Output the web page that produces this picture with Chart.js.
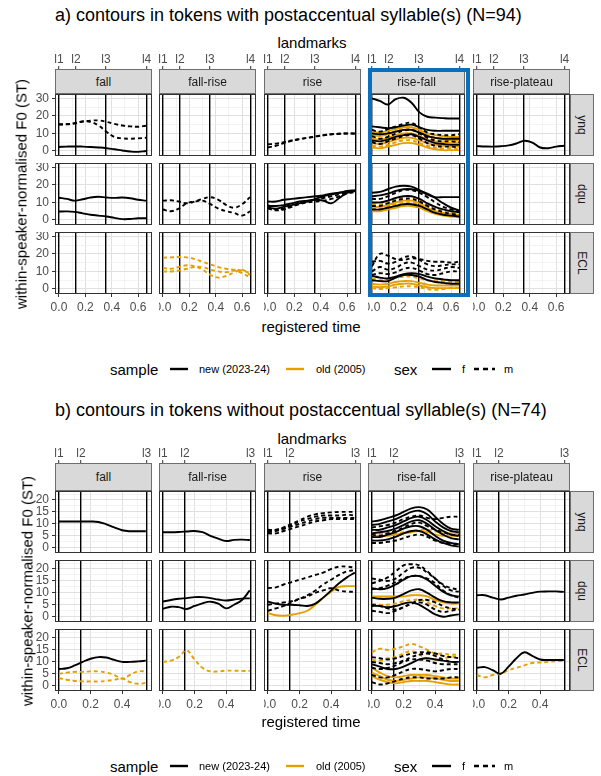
<!DOCTYPE html>
<html>
<head>
<meta charset="utf-8">
<script src="https://cdn.jsdelivr.net/npm/chart.js@4"></script>
<style>
  body { margin: 0; background: #fff; font-family: "Liberation Sans", Arial, sans-serif; }
  #page { position: relative; width: 601px; height: 776px; overflow: hidden; background: #fff; }
  #page canvas { position: absolute; }
  .txt { position: absolute; white-space: nowrap; line-height: 1; }
  .strip { position: absolute; box-sizing: border-box; background: #d9d9d9; border: 1px solid #6e6e6e;
           color: #1a1a1a; font-size: 12px; display: flex; align-items: center; justify-content: center; z-index: 2; }
  .strip span { display: inline-block; white-space: nowrap; }
  .vstrip span { transform: rotate(90deg); }
  .hilite { position: absolute; box-sizing: border-box; border: 4px solid #0a6fbd; z-index: 3; }
</style>
</head>
<body>
<div id="page"></div>
<script>
// facets
const contourTypes = ['fall', 'fall-rise', 'rise', 'rise-fall', 'rise-plateau'];
const utteranceTypes = ['ynq', 'dqu', 'ECL'];

// a) tokens with postaccentual syllable(s)
const timeA = [0, 0.06, 0.12, 0.18, 0.24, 0.30, 0.36, 0.42, 0.48, 0.54, 0.60, 0.66];
const landmarksA = [0, 0.129, 0.356, 0.664];
const landmarkNamesA = ['l1', 'l2', 'l3', 'l4'];
const xTicksA = [0, 0.2, 0.4, 0.6];
const yTicksA = [0, 10, 20, 30];

// b) tokens without postaccentual syllable(s)
const timeB = [0, 0.05, 0.10, 0.15, 0.20, 0.25, 0.30, 0.35, 0.40, 0.45, 0.50, 0.55];
const landmarksB = [0, 0.139, 0.555];
const landmarkNamesB = ['l1', 'l2', 'l3'];
const xTicksB = [0, 0.2, 0.4];
const yTicksB = [0, 5, 10, 15, 20];

// contours: [sample, sex, F0 values at each time point]
const aFallYnq = [
  ['new', 'f', [2.3, 2.5, 2.6, 2.5, 2.3, 2.0, 1.6, 1.0, 0.3, -0.3, -0.5, 0.0]],
  ['new', 'm', [15.2, 15.3, 15.8, 16.8, 17.3, 17.4, 16.6, 15.4, 14.5, 14.0, 13.8, 14.4]],
  ['new', 'm', [15.0, 15.2, 15.8, 16.8, 16.5, 14.5, 11.0, 8.0, 7.2, 7.0, 7.2, 7.5]]
];
const aFallDqu = [
  ['new', 'f', [12.7, 12.0, 11.0, 11.8, 12.8, 13.2, 12.8, 12.6, 12.8, 12.4, 11.5, 11.0]],
  ['new', 'f', [4.8, 4.9, 4.6, 3.8, 3.0, 2.5, 2.0, 1.2, 0.5, 0.6, 1.0, 1.0]]
];
const aFallriseDqu = [
  ['new', 'm', [11.0, 11.2, 10.5, 9.5, 10.5, 12.0, 13.0, 11.5, 8.5, 7.0, 9.0, 13.0]],
  ['new', 'm', [6.0, 5.0, 6.5, 9.5, 10.5, 11.0, 9.0, 6.5, 5.0, 4.0, 2.5, 5.0]]
];
const aFallriseEcl = [
  ['old', 'm', [17.8, 18.0, 18.2, 18.0, 17.0, 15.5, 14.0, 12.5, 11.5, 11.0, 10.5, 9.0]],
  ['old', 'm', [12.0, 11.5, 12.5, 13.5, 13.0, 11.0, 8.0, 6.5, 7.5, 9.5, 11.0, 8.0]],
  ['old', 'm', [10.0, 10.0, 10.5, 11.5, 12.5, 12.5, 11.0, 10.0, 9.5, 10.5, 9.0, 6.5]]
];
const aRiseYnq = [
  ['new', 'm', [3.8, 4.2, 5.0, 6.0, 6.8, 7.5, 8.2, 9.0, 9.5, 9.8, 10.0, 10.0]],
  ['new', 'm', [2.0, 3.0, 4.5, 5.8, 6.8, 7.5, 8.3, 9.0, 9.5, 9.8, 10.0, 9.8]]
];
const aRiseDqu = [
  ['new', 'f', [10.5, 10.5, 11.5, 12.0, 12.5, 13.0, 13.5, 14.0, 15.0, 15.5, 16.5, 17.0]],
  ['new', 'f', [8.0, 8.0, 8.5, 9.5, 10.5, 11.0, 11.5, 11.0, 9.5, 12.5, 15.5, 16.5]],
  ['new', 'f', [7.0, 6.5, 7.5, 8.5, 9.5, 10.5, 12.0, 13.5, 14.5, 15.5, 16.0, 16.5]],
  ['new', 'm', [6.5, 5.5, 6.0, 7.5, 9.0, 10.0, 10.5, 11.0, 12.0, 13.5, 15.0, 16.0]],
  ['new', 'm', [8.5, 6.0, 6.5, 8.0, 9.5, 10.5, 11.5, 12.5, 13.5, 14.5, 15.5, 16.5]]
];
const aRisefallYnq = [
  ['old', 'f', [11.0, 10.5, 11.5, 12.5, 13.5, 13.5, 12.0, 10.0, 9.0, 8.5, 8.0, 8.0]],
  ['old', 'f', [9.0, 8.5, 9.5, 11.0, 12.0, 12.0, 10.5, 8.5, 7.5, 6.5, 6.0, 6.0]],
  ['old', 'f', [7.0, 6.5, 7.5, 9.0, 10.0, 10.0, 8.5, 6.5, 5.5, 5.0, 4.5, 4.5]],
  ['old', 'f', [4.5, 4.0, 5.0, 6.5, 7.5, 7.5, 6.0, 4.5, 3.5, 3.0, 2.5, 2.5]],
  ['old', 'm', [10.0, 9.0, 10.0, 11.5, 13.0, 13.0, 11.5, 9.0, 7.5, 7.0, 6.5, 6.5]],
  ['old', 'm', [3.0, 2.5, 3.5, 5.0, 6.0, 6.0, 4.5, 3.0, 2.0, 1.5, 1.5, 1.0]],
  ['old', 'f', [2.0, 1.5, 2.5, 3.5, 4.5, 4.5, 3.5, 2.0, 1.0, 0.5, 0.5, 0.5]],
  ['new', 'f', [30.0, 28.5, 26.5, 29.5, 30.3, 27.5, 22.0, 19.5, 19.0, 18.7, 18.5, 18.5]],
  ['new', 'f', [14.0, 13.5, 13.0, 13.5, 14.5, 15.0, 13.5, 12.0, 11.5, 11.5, 11.5, 11.5]],
  ['new', 'f', [10.0, 9.5, 10.0, 11.0, 12.0, 12.0, 10.5, 8.5, 7.5, 7.0, 7.0, 7.0]],
  ['new', 'm', [12.0, 11.0, 12.5, 14.0, 15.5, 16.0, 13.5, 10.5, 9.5, 9.0, 9.0, 9.5]],
  ['new', 'm', [8.5, 7.0, 8.0, 10.0, 11.5, 12.0, 10.0, 7.5, 6.0, 5.5, 5.5, 5.0]],
  ['new', 'm', [5.0, 4.0, 5.5, 7.0, 8.5, 9.0, 7.0, 4.5, 3.0, 2.5, 2.5, 2.0]],
  ['new', 'f', [6.0, 5.5, 6.5, 8.0, 9.0, 9.5, 8.0, 6.0, 4.5, 4.0, 3.5, 3.5]]
];
const aRisefallDqu = [
  ['old', 'f', [7.5, 7.5, 8.5, 10.0, 11.0, 11.0, 9.5, 7.0, 5.0, 4.0, 3.5, 3.0]],
  ['old', 'f', [5.0, 5.0, 6.0, 7.0, 8.0, 8.0, 7.0, 5.0, 3.5, 2.5, 2.0, 1.5]],
  ['old', 'm', [9.0, 9.0, 10.5, 12.0, 13.0, 13.0, 11.0, 8.5, 6.5, 5.0, 4.0, 3.5]],
  ['old', 'm', [6.5, 6.5, 7.5, 9.0, 10.0, 10.0, 8.5, 6.5, 4.5, 3.5, 3.0, 2.5]],
  ['new', 'f', [15.5, 16.0, 17.5, 19.0, 19.5, 19.0, 17.0, 14.5, 13.0, 13.0, 13.0, 13.0]],
  ['new', 'f', [13.5, 14.0, 15.0, 16.5, 17.5, 17.5, 16.5, 15.0, 12.5, 9.5, 7.0, 5.5]],
  ['new', 'm', [12.0, 12.0, 13.5, 15.5, 17.0, 17.0, 15.5, 13.0, 10.0, 7.5, 6.0, 5.0]],
  ['new', 'f', [10.0, 10.0, 11.0, 12.5, 13.5, 13.5, 12.0, 9.5, 7.5, 6.0, 5.0, 4.5]],
  ['new', 'm', [8.0, 8.0, 9.5, 11.0, 12.0, 12.0, 10.5, 8.0, 6.0, 4.5, 3.5, 3.0]],
  ['new', 'f', [6.0, 6.0, 7.0, 8.0, 9.0, 9.0, 8.0, 6.0, 4.0, 3.0, 2.5, 2.0]]
];
const aRisefallEcl = [
  ['old', 'm', [6.0, 5.0, 5.5, 6.5, 7.0, 7.0, 6.0, 5.0, 4.5, 4.5, 4.0, 4.0]],
  ['old', 'f', [3.0, 2.5, 3.0, 4.0, 4.5, 4.5, 3.5, 2.5, 2.0, 2.0, 2.0, 2.0]],
  ['old', 'f', [1.5, 1.0, 1.5, 2.5, 3.0, 3.0, 2.0, 1.0, 0.5, 0.5, 0.5, 0.5]],
  ['old', 'm', [0.5, 0.0, 0.5, 1.0, 1.5, 1.5, 1.0, 0.0, -0.5, 0.0, 0.5, 0.5]],
  ['new', 'm', [13.0, 20.0, 19.0, 17.0, 16.5, 17.5, 17.0, 16.0, 15.5, 15.5, 15.0, 15.5]],
  ['new', 'm', [15.5, 16.0, 14.5, 15.5, 18.0, 18.5, 16.5, 14.0, 13.0, 13.5, 14.0, 14.0]],
  ['new', 'm', [10.0, 12.5, 11.0, 12.0, 14.5, 15.0, 13.0, 11.0, 10.5, 11.5, 12.5, 12.0]],
  ['new', 'm', [8.0, 9.0, 8.5, 9.5, 11.5, 12.0, 10.5, 8.5, 8.0, 9.0, 10.0, 10.0]],
  ['new', 'f', [7.5, 6.5, 6.0, 7.0, 8.5, 9.0, 8.5, 7.0, 6.0, 5.5, 5.0, 5.0]],
  ['new', 'f', [5.0, 4.5, 4.5, 6.5, 8.0, 8.0, 7.0, 5.0, 4.0, 3.5, 3.0, 3.0]]
];
const aRiseplateauYnq = [
  ['new', 'f', [2.8, 2.6, 2.5, 2.7, 3.2, 4.3, 5.8, 4.8, 2.0, 1.6, 2.5, 3.0]]
];

const bFallYnq = [
  ['new', 'f', [11.0, 11.0, 11.0, 11.0, 11.0, 10.8, 9.8, 8.5, 7.3, 6.9, 6.9, 6.9]]
];
const bFallEcl = [
  ['old', 'm', [5.0, 5.5, 5.8, 5.8, 6.0, 6.0, 5.5, 4.5, 3.0, 4.5, 6.0, 6.0]],
  ['old', 'm', [3.2, 2.5, 2.0, 1.8, 1.8, 1.8, 2.0, 2.5, 3.0, 1.5, 0.8, 1.2]],
  ['new', 'f', [7.0, 7.3, 8.5, 10.0, 11.3, 12.0, 11.8, 10.8, 10.0, 10.0, 10.2, 10.5]]
];
const bFallriseYnq = [
  ['new', 'f', [6.5, 6.5, 6.6, 6.8, 7.0, 6.5, 5.0, 3.8, 2.8, 3.3, 3.4, 3.2]]
];
const bFallriseDqu = [
  ['new', 'f', [6.3, 7.0, 7.5, 7.8, 8.2, 8.2, 7.8, 7.2, 6.8, 7.2, 7.6, 7.7]],
  ['new', 'f', [3.3, 4.2, 4.0, 3.2, 4.5, 5.6, 6.3, 5.5, 3.5, 5.0, 7.0, 11.0]]
];
const bFallriseEcl = [
  ['old', 'm', [10.0, 10.5, 12.0, 14.8, 11.0, 7.5, 6.0, 6.0, 6.3, 6.3, 6.2, 6.2]]
];
const bRiseYnq = [
  ['new', 'm', [7.0, 7.5, 8.5, 10.0, 11.5, 13.0, 14.0, 14.5, 14.8, 15.0, 15.0, 15.0]],
  ['new', 'm', [6.5, 7.0, 8.0, 9.5, 11.0, 12.0, 13.0, 13.5, 13.5, 13.5, 13.8, 13.5]],
  ['new', 'm', [7.5, 7.5, 8.0, 9.0, 10.0, 11.0, 12.0, 12.5, 12.5, 12.5, 12.5, 12.5]],
  ['new', 'm', [6.0, 6.0, 7.0, 8.0, 9.0, 10.0, 11.0, 11.5, 12.0, 12.0, 12.0, 12.0]]
];
const bRiseDqu = [
  ['old', 'f', [1.5, 0.6, 0.4, 0.8, 1.5, 2.5, 5.0, 8.0, 10.5, 12.5, 12.8, 12.8]],
  ['new', 'm', [12.0, 12.3, 13.5, 14.5, 15.5, 16.5, 17.5, 18.5, 20.0, 21.0, 21.0, 20.5]],
  ['new', 'm', [2.5, 3.5, 4.5, 6.0, 7.5, 9.0, 11.0, 13.5, 15.5, 17.5, 19.0, 19.5]],
  ['new', 'm', [5.0, 5.5, 6.0, 6.5, 7.5, 8.5, 10.0, 11.0, 12.0, 11.0, 10.5, 10.5]],
  ['new', 'f', [6.3, 5.5, 5.0, 5.0, 4.8, 4.5, 5.5, 8.0, 11.0, 14.0, 16.5, 18.5]]
];
const bRisefallYnq = [
  ['old', 'f', [5.0, 5.0, 5.0, 5.5, 6.0, 6.5, 7.0, 6.5, 5.5, 5.0, 5.0, 5.0]],
  ['old', 'm', [6.0, 6.0, 6.0, 6.0, 6.5, 7.0, 7.5, 7.5, 7.0, 6.0, 6.0, 6.0]],
  ['new', 'f', [11.0, 11.5, 12.5, 13.5, 15.0, 16.5, 17.0, 16.0, 13.0, 10.0, 8.0, 7.5]],
  ['new', 'f', [9.5, 10.0, 11.0, 12.0, 13.5, 15.0, 15.5, 14.0, 11.0, 8.5, 7.0, 6.5]],
  ['new', 'm', [8.5, 9.0, 9.5, 10.5, 12.0, 13.0, 13.5, 12.5, 12.0, 12.5, 13.0, 13.0]],
  ['new', 'f', [7.5, 7.5, 8.5, 9.5, 11.0, 12.5, 13.0, 11.5, 9.0, 7.0, 5.5, 5.0]],
  ['new', 'f', [6.0, 6.5, 7.0, 8.0, 9.5, 11.0, 11.5, 10.0, 7.5, 5.5, 4.0, 3.5]],
  ['new', 'm', [5.5, 5.0, 6.0, 7.0, 8.5, 10.0, 10.5, 9.0, 7.5, 6.5, 5.5, 5.5]],
  ['new', 'f', [4.5, 4.5, 5.5, 6.5, 8.0, 9.0, 9.0, 7.5, 5.0, 3.0, 2.0, 1.5]],
  ['new', 'f', [3.0, 3.0, 3.5, 4.5, 6.0, 7.0, 7.0, 5.5, 3.5, 2.0, 1.0, 0.5]],
  ['new', 'm', [2.0, 2.0, 2.5, 3.0, 4.0, 5.0, 5.5, 4.5, 3.0, 2.0, 1.5, 1.5]]
];
const bRisefallDqu = [
  ['old', 'f', [8.5, 8.5, 8.5, 8.5, 8.5, 9.0, 9.0, 8.5, 7.0, 6.0, 5.5, 5.5]],
  ['old', 'm', [5.5, 5.0, 5.0, 5.5, 6.5, 7.0, 7.0, 6.0, 4.5, 3.5, 3.5, 3.5]],
  ['new', 'm', [14.0, 15.0, 16.5, 19.0, 21.5, 22.0, 21.5, 19.0, 16.0, 13.0, 11.0, 10.5]],
  ['new', 'm', [16.0, 15.5, 15.0, 16.0, 18.5, 20.5, 20.5, 18.5, 16.0, 13.5, 12.0, 11.5]],
  ['new', 'm', [11.5, 12.0, 13.0, 14.5, 16.0, 17.0, 17.0, 16.0, 14.0, 11.0, 9.0, 8.0]],
  ['new', 'f', [12.0, 11.5, 12.0, 13.5, 15.5, 17.0, 17.0, 15.5, 13.0, 10.5, 9.0, 8.5]],
  ['new', 'f', [8.0, 7.5, 7.5, 8.0, 9.5, 11.0, 11.5, 10.0, 8.0, 6.5, 6.0, 6.0]],
  ['new', 'f', [4.5, 4.5, 4.0, 4.5, 5.5, 6.0, 5.0, 3.0, 1.0, 0.0, 0.5, 1.0]],
  ['new', 'm', [5.0, 4.5, 3.5, 3.0, 4.0, 5.5, 7.0, 7.0, 6.0, 4.5, 3.5, 3.0]],
  ['new', 'm', [2.5, 2.0, 1.5, 2.5, 4.0, 5.5, 6.0, 5.0, 3.0, 2.0, 2.5, 3.0]]
];
const bRisefallEcl = [
  ['old', 'f', [7.5, 5.5, 4.0, 3.5, 4.0, 4.5, 4.5, 4.5, 4.0, 3.5, 3.0, 3.0]],
  ['old', 'f', [5.5, 4.0, 2.5, 2.0, 2.5, 3.0, 3.5, 3.5, 3.0, 2.5, 2.0, 2.0]],
  ['old', 'f', [4.0, 2.5, 1.5, 1.0, 1.5, 2.0, 2.0, 2.0, 1.5, 1.0, 0.5, 0.5]],
  ['old', 'm', [14.0, 15.5, 15.0, 15.5, 16.5, 17.5, 16.5, 15.0, 13.5, 13.5, 13.0, 13.0]],
  ['old', 'm', [11.0, 10.5, 11.5, 12.0, 13.5, 14.5, 13.0, 11.5, 11.0, 11.5, 12.0, 12.0]],
  ['new', 'm', [12.0, 11.5, 11.0, 11.5, 12.5, 13.5, 14.0, 14.0, 13.5, 12.5, 12.0, 11.5]],
  ['new', 'm', [10.0, 9.5, 9.0, 9.5, 10.5, 12.0, 13.0, 13.5, 12.5, 11.0, 10.0, 10.0]],
  ['new', 'm', [7.5, 7.0, 7.5, 8.5, 10.0, 11.0, 11.0, 10.5, 9.5, 9.0, 9.0, 9.0]],
  ['new', 'm', [4.5, 3.5, 3.5, 4.5, 6.0, 7.0, 7.0, 6.5, 6.0, 6.5, 7.0, 7.0]],
  ['new', 'f', [9.0, 8.0, 7.0, 7.0, 8.0, 9.5, 11.0, 11.5, 11.0, 10.5, 10.0, 10.0]],
  ['new', 'm', [1.5, 0.5, 1.0, 2.0, 3.0, 3.5, 3.5, 3.0, 3.0, 3.0, 3.5, 3.5]]
];
const bRiseplateauDqu = [
  ['new', 'f', [9.0, 9.0, 8.0, 7.2, 8.0, 8.8, 9.3, 10.0, 10.5, 10.6, 10.6, 10.4]]
];
const bRiseplateauEcl = [
  ['old', 'm', [4.5, 3.5, 4.5, 5.0, 6.5, 7.5, 8.5, 9.5, 9.7, 10.0, 10.2, 10.4]],
  ['new', 'f', [7.5, 7.8, 6.5, 5.0, 8.0, 11.5, 14.0, 12.5, 11.0, 10.8, 10.8, 10.8]]
];

// facet lookup [contour type][utterance type]
const facetsA = {
  'fall': { ynq: aFallYnq, dqu: aFallDqu, ECL: [] },
  'fall-rise': { ynq: [], dqu: aFallriseDqu, ECL: aFallriseEcl },
  'rise': { ynq: aRiseYnq, dqu: aRiseDqu, ECL: [] },
  'rise-fall': { ynq: aRisefallYnq, dqu: aRisefallDqu, ECL: aRisefallEcl },
  'rise-plateau': { ynq: aRiseplateauYnq, dqu: [], ECL: [] }
};
const facetsB = {
  'fall': { ynq: bFallYnq, dqu: [], ECL: bFallEcl },
  'fall-rise': { ynq: bFallriseYnq, dqu: bFallriseDqu, ECL: bFallriseEcl },
  'rise': { ynq: bRiseYnq, dqu: bRiseDqu, ECL: [] },
  'rise-fall': { ynq: bRisefallYnq, dqu: bRisefallDqu, ECL: bRisefallEcl },
  'rise-plateau': { ynq: [], dqu: bRiseplateauDqu, ECL: bRiseplateauEcl }
};

const COLOR_NEW = '#000000';
const COLOR_OLD = '#E69F00';

// page layout (pixels)
const colX = [55, 159, 264, 368, 473];
const PW = 97, PH = 62;
const blocks = [
  { title: 'a) contours in tokens with postaccentual syllable(s) (N=94)', titleY: 15, landY: 42,
    stripH: 25, rowY: [94, 163, 232], xMin: -0.03, xMax: 0.705, yMin: -2.85, yMax: 32.45,
    xLabY: 326, legendY: 369, yTitleX: 21, facets: facetsA, time: timeA,
    landmarks: landmarksA, landmarkNames: landmarkNamesA, xTicks: xTicksA, yTicks: yTicksA, highlight: 3 },
  { title: 'b) contours in tokens without postaccentual syllable(s) (N=74)', titleY: 410, landY: 438,
    stripH: 28, rowY: [491, 560, 629], xMin: -0.025, xMax: 0.589, yMin: -2.22, yMax: 23.77,
    xLabY: 721, legendY: 766, yTitleX: 27, facets: facetsB, time: timeB,
    landmarks: landmarksB, landmarkNames: landmarkNamesB, xTicks: xTicksB, yTicks: yTicksB, highlight: -1 }
];

Chart.defaults.font.family = '"Liberation Sans", Arial, sans-serif';
const page = document.getElementById('page');

function addText(text, x, y, size, opts = {}) {
  const d = document.createElement('div');
  d.className = 'txt';
  d.textContent = text;
  d.style.left = x + 'px';
  d.style.top = y + 'px';
  d.style.fontSize = size + 'px';
  d.style.color = opts.color || '#000';
  const tx = opts.anchor === 'start' ? '0' : '-50%';
  d.style.transform = `translate(${tx}, -50%)` + (opts.rotate ? ` rotate(${opts.rotate}deg)` : '');
  page.appendChild(d);
  return d;
}

// major ticks plus minor lines half way between them
function gridTicks(major, lo, hi) {
  const step = major[1] - major[0];
  const out = [];
  if (major[0] - step / 2 >= lo) out.push({ value: major[0] - step / 2, isMajor: false });
  major.forEach(v => {
    out.push({ value: v, isMajor: true });
    if (v + step / 2 <= hi) out.push({ value: v + step / 2, isMajor: false });
  });
  return out;
}

const panelBorder = {
  id: 'panelBorder',
  afterDraw(chart) {
    const a = chart.chartArea, ctx = chart.ctx;
    ctx.save();
    ctx.strokeStyle = '#333333';
    ctx.lineWidth = 1;
    ctx.strokeRect(a.left + 0.5, a.top + 0.5, a.right - a.left - 1, a.bottom - a.top - 1);
    ctx.restore();
  }
};

function drawFacet(b, r, c) {
  const padL = c === 0 ? 34 : 0;
  const padT = r === 0 ? b.stripH + 18 : 0;
  const padB = r === 2 ? 22 : 0;
  const cv = document.createElement('canvas');
  cv.width = PW + padL;
  cv.height = PH + padT + padB;
  cv.style.left = (colX[c] - padL) + 'px';
  cv.style.top = (b.rowY[r] - padT) + 'px';
  page.appendChild(cv);

  const contours = b.facets[contourTypes[c]][utteranceTypes[r]];
  // Chart.js paints dataset 0 last, so reverse to keep the listed order as paint order
  const datasets = contours.slice().reverse().map(([sample, sex, vals]) => ({
    data: b.time.map((t, i) => ({ x: t, y: vals[i] })),
    borderColor: sample === 'new' ? COLOR_NEW : COLOR_OLD,
    borderDash: sex === 'm' ? [4, 3] : [],
    borderWidth: 1.9,
    pointRadius: 0,
    tension: 0.4,
    fill: false
  }));

  const xGrid = gridTicks(b.xTicks, b.xMin, b.xMax);
  const yGrid = gridTicks(b.yTicks, b.yMin, b.yMax);
  const light = ctx => ctx.tick && ctx.tick.isMajor ? '#e0e0e0' : '#eeeeee';
  const lightW = ctx => ctx.tick && ctx.tick.isMajor ? 1 : 0.7;
  const tickCol = ctx => ctx.tick && ctx.tick.isMajor ? '#333333' : 'rgba(0,0,0,0)';

  new Chart(cv, {
    type: 'line',
    data: { datasets },
    options: {
      responsive: false,
      animation: false,
      events: [],
      layout: { padding: 0 },
      plugins: { legend: { display: false }, tooltip: { enabled: false } },
      scales: {
        x: {
          type: 'linear', position: 'bottom', min: b.xMin, max: b.xMax,
          afterBuildTicks: s => { s.ticks = xGrid.map(t => ({ ...t })); },
          afterFit: s => { s.height = padB; s.paddingLeft = 0; s.paddingRight = 0; },
          ticks: {
            display: r === 2, autoSkip: false, minRotation: 0, maxRotation: 0, padding: 3,
            color: '#4d4d4d', font: { size: 12 },
            callback: (v, i, ticks) => ticks[i].isMajor ? v.toFixed(1) : ''
          },
          grid: { color: light, lineWidth: lightW, drawTicks: r === 2, tickLength: 3, tickColor: tickCol, tickWidth: 1 },
          border: { display: false }
        },
        y: {
          type: 'linear', position: 'left', min: b.yMin, max: b.yMax,
          afterBuildTicks: s => { s.ticks = yGrid.map(t => ({ ...t })); },
          afterFit: s => { s.width = padL; s.paddingTop = 0; s.paddingBottom = 0; },
          ticks: {
            display: c === 0, autoSkip: false, padding: 3,
            color: '#4d4d4d', font: { size: 12 },
            callback: (v, i, ticks) => ticks[i].isMajor ? String(v) : ''
          },
          grid: { color: light, lineWidth: lightW, drawTicks: c === 0, tickLength: 3, tickColor: tickCol, tickWidth: 1 },
          border: { display: false }
        },
        x2: {
          type: 'linear', position: 'top', min: b.xMin, max: b.xMax,
          afterBuildTicks: s => { s.ticks = b.landmarks.map(v => ({ value: v })); },
          afterFit: s => { s.height = padT; s.paddingLeft = 0; s.paddingRight = 0; },
          ticks: {
            display: r === 0, autoSkip: false, minRotation: 0, maxRotation: 0, padding: -1,
            color: '#4d4d4d', font: { size: 12 },
            callback: (v, i) => b.landmarkNames[i]
          },
          grid: { color: '#000000', lineWidth: 1.4, drawTicks: r === 0, tickLength: b.stripH + 3,
                  tickColor: '#333333', tickWidth: 1 },
          border: { display: false }
        }
      }
    },
    plugins: [panelBorder]
  });
}

function drawLegend(y) {
  const key = (x1, x2, color, dash) => {
    const s = document.createElementNS('http://www.w3.org/2000/svg', 'svg');
    s.setAttribute('width', x2 - x1);
    s.setAttribute('height', 6);
    s.style.position = 'absolute';
    s.style.left = x1 + 'px';
    s.style.top = (y - 3) + 'px';
    const l = document.createElementNS('http://www.w3.org/2000/svg', 'line');
    l.setAttribute('x1', 0); l.setAttribute('x2', x2 - x1);
    l.setAttribute('y1', 3); l.setAttribute('y2', 3);
    l.setAttribute('stroke', color);
    l.setAttribute('stroke-width', 2.4);
    if (dash) l.setAttribute('stroke-dasharray', dash);
    s.appendChild(l);
    page.appendChild(s);
  };
  addText('sample', 110, y, 15, { anchor: 'start' });
  key(170, 188, COLOR_NEW);
  addText('new (2023-24)', 199, y, 11, { anchor: 'start' });
  key(286, 304, COLOR_OLD);
  addText('old (2005)', 316, y, 11, { anchor: 'start' });
  addText('sex', 394, y, 15, { anchor: 'start' });
  key(432, 451, COLOR_NEW);
  addText('f', 462, y, 11, { anchor: 'start' });
  key(474, 495, COLOR_NEW, '5 4');
  addText('m', 504, y, 11, { anchor: 'start' });
}

blocks.forEach(b => {
  addText(b.title, 55, b.titleY, 18, { anchor: 'start' });
  addText('landmarks', 312, b.landY, 15);

  for (let r = 0; r < 3; r++) {
    for (let c = 0; c < 5; c++) drawFacet(b, r, c);
  }

  contourTypes.forEach((name, c) => {
    const s = document.createElement('div');
    s.className = 'strip';
    s.style.left = colX[c] + 'px';
    s.style.top = (b.rowY[0] - b.stripH) + 'px';
    s.style.width = PW + 'px';
    s.style.height = b.stripH + 'px';
    s.innerHTML = '<span></span>';
    s.firstChild.textContent = name;
    page.appendChild(s);
  });
  utteranceTypes.forEach((name, r) => {
    const s = document.createElement('div');
    s.className = 'strip vstrip';
    s.style.left = '570px';
    s.style.top = b.rowY[r] + 'px';
    s.style.width = '24px';
    s.style.height = PH + 'px';
    s.innerHTML = '<span></span>';
    s.firstChild.textContent = name;
    page.appendChild(s);
  });

  if (b.highlight >= 0) {
    const h = document.createElement('div');
    h.className = 'hilite';
    h.style.left = (colX[b.highlight] - 0.5) + 'px';
    h.style.top = (b.rowY[0] - b.stripH - 1.5) + 'px';
    h.style.width = '102px';
    h.style.height = (b.rowY[2] + PH - b.rowY[0] + b.stripH + 4) + 'px';
    page.appendChild(h);
  }

  const mid = (b.rowY[0] + b.rowY[2] + PH) / 2;
  addText('within-speaker-normalised F0 (ST)', b.yTitleX, mid, 15, { rotate: -90 });
  addText('registered time', 311, b.xLabY, 15);
  drawLegend(b.legendY);
});
</script>
</body>
</html>
